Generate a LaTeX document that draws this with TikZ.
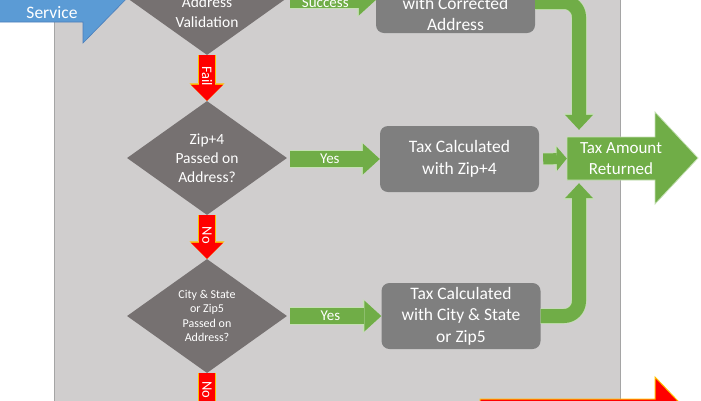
\documentclass[tikz,border=0pt]{standalone}
\usepackage{fontspec}
\setmainfont{Carlito}
\usetikzlibrary{shapes.geometric,arrows.meta,positioning}

\definecolor{panelgray}{HTML}{D0CECE}
\definecolor{paneledge}{HTML}{A5A5A5}
\definecolor{decidegray}{HTML}{767171}
\definecolor{calcgray}{HTML}{7F7F7F}
\definecolor{okgreen}{HTML}{70AD47}
\definecolor{okedge}{HTML}{C5E0B4}
\definecolor{failred}{HTML}{FF0000}
\definecolor{failedge}{HTML}{FFC000}
\definecolor{svcblue}{HTML}{5B9BD5}
\definecolor{svcedge}{HTML}{4A7EBB}

\tikzset{
  decision/.style={diamond, fill=decidegray, minimum width=160pt, minimum height=114pt,
    inner sep=0pt, text=white, align=center},
  calcbox/.style={rectangle, rounded corners=8pt, fill=calcgray, minimum width=159pt,
    minimum height=66pt, inner sep=0pt, text=white, align=center,
    font=\fontsize{17.5}{21.5}\selectfont},
  plaintext/.style={text=white, align=center, inner sep=0pt},
  yesarrow/.style={draw=okgreen, line width=16pt, shorten <=3pt,
    -{Triangle[width=31pt,length=17pt,line width=0pt]},
    preaction={draw=okedge, line width=17.5pt, shorten <=3pt,
      -{Triangle[width=34pt,length=18.5pt,line width=0pt]}}},
  noarrow/.style={draw=failred, line width=16pt,
    -{Triangle[width=32pt,length=16pt,line width=0pt]},
    preaction={draw=failedge, line width=18pt,
      -{Triangle[width=35pt,length=17.5pt,line width=0pt]}}},
  okband/.style={draw=okgreen, line width=14pt, rounded corners=15pt,
    -{Triangle[width=28pt,length=15pt,line width=0pt]},
    preaction={draw=okedge, line width=15.5pt, rounded corners=15pt,
      -{Triangle[width=31pt,length=16.5pt,line width=0pt]}}},
  okstub/.style={draw=okgreen, line width=11pt, shorten <=4pt,
    -{Triangle[width=24pt,length=10pt,line width=0pt]},
    preaction={draw=okedge, line width=12.5pt, shorten <=4pt,
      -{Triangle[width=27pt,length=11.5pt,line width=0pt]}}},
  flowlabel/.style={text=white, inner sep=0pt, font=\fontsize{15}{18}\selectfont},
  flowtag/.style={text=white, inner sep=0pt, rotate=-90, font=\fontsize{14.5}{16}\selectfont}
}

\begin{document}
\begin{tikzpicture}[x=1pt, y=-1pt]
\useasboundingbox (0,0) rectangle (701,400);
\clip (0,0) rectangle (701,400);

% panel behind the flow
\fill[panelgray] (54,-10) rectangle (620,410);
\draw[paneledge, line width=.8pt] (54,-10) -- (54,410) (620,-10) -- (620,410);

% red block arrow, bottom right
\filldraw[fill=failred, draw=failedge, line width=1pt] (480,399) -- (655,399) -- (655,377)
  -- (696,420) -- (655,463) -- (655,441) -- (480,441) -- cycle;

% service callout
\filldraw[fill=svcblue, draw=svcedge, line width=.6pt] (-5,22) -- (83,22) -- (83,43)
  -- (135,-10) -- (-5,-10) -- cycle;
\node[plaintext, font=\fontsize{17.5}{21}\selectfont] (svc) at (52,13) {Service};

% decisions
\node[decision] (valid) at (207,-2) {};
\node[plaintext, font=\fontsize{15.5}{20.5}\selectfont] (validtxt) at (207,12) {Address\\Validation};
\node[decision, font=\fontsize{15.5}{19}\selectfont] (zip4) at (207,158) {Zip+4\\Passed on\\Address?};
\node[decision, font=\fontsize{12}{14.5}\selectfont] (city) at (207,316) {City \& State\\or Zip5\\Passed on\\Address?};

% calculations
\node[calcbox] (corr) at (455.5,0) {};
\node[plaintext, font=\fontsize{17.5}{21}\selectfont] (corrtxt) at (455.5,13.5) {with Corrected\\Address};
\node[calcbox] (zipcalc) at (459.5,159) {Tax Calculated\\with Zip+4};
\node[calcbox] (citycalc) at (461,316) {Tax Calculated\\with City \& State\\or Zip5};

% result
\filldraw[fill=okgreen, draw=okedge, line width=.8pt] (567,137) -- (655,137) -- (655,112)
  -- (698,158) -- (655,204) -- (655,180) -- (567,180) -- cycle;
\node[plaintext, minimum width=108pt, minimum height=43pt, font=\fontsize{17}{21}\selectfont]
  (taxout) at (621,158.5) {Tax Amount\\Returned};

% yes / success
\draw[yesarrow] (valid.east |- corr.west) -- (corr.west)
  node[flowlabel, pos=.43, yshift=-3pt] (succ) {Success};
\draw[yesarrow] (zip4.east |- zipcalc.west) -- (zipcalc.west) node[flowlabel, pos=.46] (yesa) {Yes};
\draw[yesarrow] (city.east |- citycalc.west) -- (citycalc.west) node[flowlabel, pos=.46] (yesb) {Yes};

% fail / no
\coordinate (nextstep) at (207,445);
\draw[noarrow] (valid.south) -- (zip4.north) node[flowtag, pos=.46] (fail) {Fail};
\draw[noarrow] (zip4.south) -- (city.north) node[flowtag, pos=.46] (noa) {No};
\draw[noarrow] (city.south) -- (nextstep) node[flowtag, pos=.23] (nob) {No};

% into the result
\draw[okband] ([yshift=-2pt]corr.east) -| ([xshift=-42pt,yshift=7pt]taxout.north);
\draw[okstub] (zipcalc.east) -- (taxout.west);
\draw[okband] (citycalc.east) -| ([xshift=-42pt,yshift=-3pt]taxout.south);
\end{tikzpicture}
\end{document}
